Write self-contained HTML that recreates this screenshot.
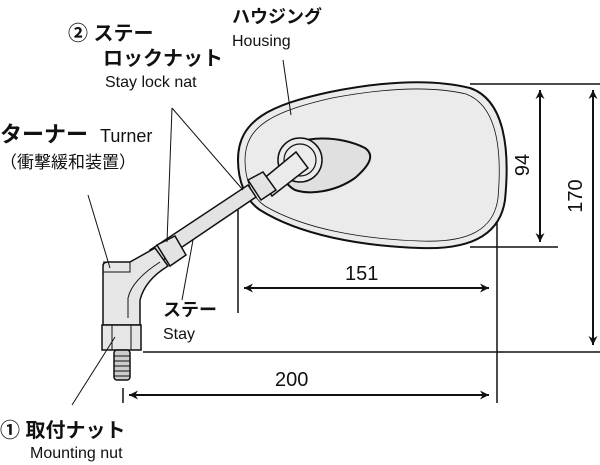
<!DOCTYPE html>
<html><head><meta charset="utf-8"><style>
body{margin:0;background:#fff;}
svg{display:block;}
text{font-family:"Liberation Sans","Noto Sans CJK JP",sans-serif;fill:#111;}
.b{font-weight:bold;}
</style></head><body>
<svg width="600" height="465" viewBox="0 0 600 465" xmlns="http://www.w3.org/2000/svg">
<defs>
<marker id="a" viewBox="0 0 10 10" refX="10" refY="5" markerWidth="12" markerHeight="9" orient="auto-start-reverse" markerUnits="userSpaceOnUse"><path d="M0,0 L10,5 L0,10 L3,5z" fill="#111"/></marker>
</defs>
<g stroke="#111" fill="none" stroke-width="1.5">
<line x1="470" y1="84" x2="600" y2="84"/>
<line x1="470" y1="247" x2="558" y2="247"/>
<line x1="143" y1="352" x2="600" y2="352"/>
<line x1="497" y1="220" x2="497" y2="403"/>
<line x1="238" y1="210" x2="238" y2="313"/>
<line x1="123" y1="388" x2="123" y2="403"/>
<line x1="540" y1="90" x2="540" y2="242" marker-start="url(#a)" marker-end="url(#a)" stroke-width="2"/>
<line x1="593" y1="90" x2="593" y2="345" marker-start="url(#a)" marker-end="url(#a)" stroke-width="2"/>
<line x1="244" y1="288" x2="489" y2="288" marker-start="url(#a)" marker-end="url(#a)" stroke-width="2"/>
<line x1="129" y1="395" x2="489" y2="395" marker-start="url(#a)" marker-end="url(#a)" stroke-width="2"/>
</g>
<path d="M238,160 C238,120 270,105 330,92 C380,82 430,78 470,88 C505,100 510,150 505,200 C500,235 470,250 420,248 C360,246 300,235 260,210 C245,200 238,180 238,160Z" fill="#ebebeb" stroke="#111" stroke-width="2"/>
<path d="M245,160 C245,125 275,111 332,98 C380,89 428,85 466,94 C498,106 502,152 498,198 C494,230 468,243 420,241 C362,239 304,229 265,206 C252,197 245,180 245,160Z" fill="none" stroke="#111" stroke-width="0.8"/>
<path d="M285,150 C300,135 340,135 365,148 C375,155 370,165 355,178 C335,192 310,195 295,190 C280,182 278,160 285,150Z" fill="#e0e0e0" stroke="#111" stroke-width="2"/>
<circle cx="300" cy="160" r="22" fill="#ebebeb" stroke="#111" stroke-width="1.5"/>
<circle cx="300" cy="160" r="16" fill="#ebebeb" stroke="#111" stroke-width="1.2"/>
<path d="M150,250 L248,185 L256,197 L160,262Z" fill="#e3e3e3" stroke="#111" stroke-width="1.5"/>
<path d="M262,180 L296,152 L308,168 L272,196Z" fill="#ebebeb" stroke="#111" stroke-width="1.5"/>
<path d="M248,180 L263,172 L276,190 L261,200Z" fill="#e3e3e3" stroke="#111" stroke-width="1.5"/>
<path d="M157,245 L175,236 L186,255 L170,266Z" fill="#e3e3e3" stroke="#111" stroke-width="1.5"/>
<path d="M103,266 Q103,262 108,262 L130,262 L155,248 L168,266 Q145,280 140,300 L140,325 L103,325Z" fill="#e6e6e6" stroke="#111" stroke-width="1.5"/>
<path d="M103,262 L130,262 L130,272 L103,272" fill="none" stroke="#111" stroke-width="1"/>
<path d="M128,318 L128,298 Q132,280 160,262" fill="none" stroke="#111" stroke-width="1"/>
<rect x="102" y="325" width="39" height="25" fill="#e6e6e6" stroke="#111" stroke-width="1.5"/>
<line x1="112" y1="325" x2="112" y2="350" stroke="#111"/>
<line x1="131" y1="325" x2="131" y2="350" stroke="#111"/>
<rect x="114" y="350" width="16" height="30" rx="3" fill="#ccc" stroke="#111" stroke-width="1.5"/>
<g stroke="#111" stroke-width="1">
<line x1="114" y1="356" x2="130" y2="356"/><line x1="114" y1="361" x2="130" y2="361"/><line x1="114" y1="366" x2="130" y2="366"/><line x1="114" y1="371" x2="130" y2="371"/><line x1="114" y1="376" x2="130" y2="376"/>
</g>
<g stroke="#111" stroke-width="1">
<line x1="172" y1="108" x2="167" y2="242"/>
<line x1="172" y1="108" x2="243" y2="190"/>
<line x1="283" y1="60" x2="291" y2="115"/>
<line x1="88" y1="195" x2="110" y2="268"/>
<line x1="115" y1="337" x2="72" y2="405"/>
<line x1="193" y1="240" x2="182" y2="300"/>
</g>
<text x="68" y="40" font-size="20" class="b">② ステー</text>
<text x="103" y="65" font-size="20" class="b">ロックナット</text>
<text x="105" y="87" font-size="16">Stay lock nat</text>
<text x="232" y="23" font-size="18" class="b">ハウジング</text>
<text x="232" y="46" font-size="16">Housing</text>
<text x="0" y="142" font-size="22" class="b">ターナー</text>
<text x="100" y="142" font-size="18">Turner</text>
<text x="0" y="168" font-size="17">（衝撃緩和装置）</text>
<text x="163" y="316" font-size="18" class="b">ステー</text>
<text x="163" y="339" font-size="16">Stay</text>
<text x="0" y="437" font-size="20" class="b">① 取付ナット</text>
<text x="30" y="458" font-size="16">Mounting nut</text>
<text x="345" y="280" font-size="20">151</text>
<text x="275" y="386" font-size="20">200</text>
<text transform="translate(529,165) rotate(-90)" font-size="20" text-anchor="middle">94</text>
<text transform="translate(582,196) rotate(-90)" font-size="20" text-anchor="middle">170</text>
</svg>
</body></html>
